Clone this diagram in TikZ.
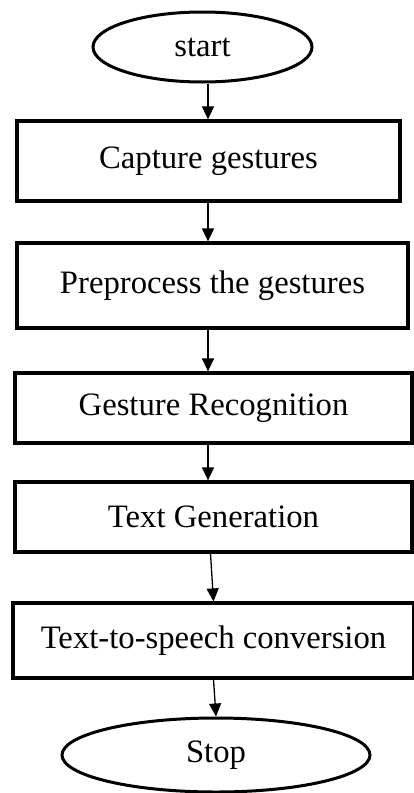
\documentclass[tikz,border=0pt]{standalone}
\usepackage{fontspec}
\setmainfont{Liberation Serif}
\usetikzlibrary{arrows.meta,shapes.geometric}
\tikzset{
  x=1pt,y=-1pt,
  stepbox/.style={draw,line width=3.2pt,rectangle,inner sep=0pt,font=\fontsize{32.7}{38}\selectfont},
  term/.style={draw,line width=3pt,ellipse,inner sep=0pt,font=\fontsize{32.7}{38}\selectfont},
  arr/.style={line width=1.3pt,-{Triangle[length=13pt,width=12pt]}}
}
\begin{document}
\begin{tikzpicture}
\useasboundingbox (0,0) rectangle (413,793);
\coordinate (ax) at (208,0);
\node[term,minimum width=219pt,minimum height=70pt] (start) at (202.5,47) {start};
\node[stepbox,minimum width=383pt,minimum height=80pt] (b1) at (208.5,161) {Capture gestures};
\node[stepbox,minimum width=391pt,minimum height=85pt] (b2) at (212.5,285.5) {Preprocess the gestures};
\node[stepbox,minimum width=397pt,minimum height=70pt] (b3) at (213.5,408) {Gesture Recognition};
\node[stepbox,minimum width=397pt,minimum height=70pt] (b4) at (213.5,517) {Text Generation};
\node[stepbox,minimum width=401pt,minimum height=75pt] (b5) at (213.5,640.5) {Text-to-speech conversion};
\node[term,minimum width=308pt,minimum height=74pt] (stop) at (216,755) {Stop};
\draw[arr] (start.south -| ax) -- (b1.north -| ax);
\draw[arr] (b1.south -| ax) -- (b2.north -| ax);
\draw[arr] (b2.south -| ax) -- (b3.north -| ax);
\draw[arr] (b3.south -| ax) -- (b4.north -| ax);
\draw[arr] ([xshift=-3pt]b4.south) -- (b5.north);
\draw[arr] (b5.south) -- (stop.north);
\end{tikzpicture}
\end{document}
